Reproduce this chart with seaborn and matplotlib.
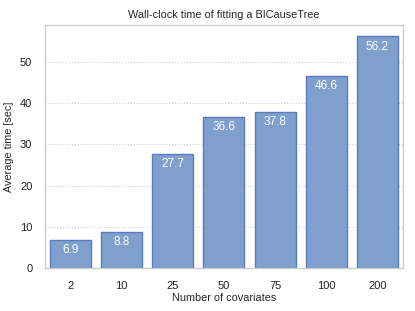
import matplotlib
matplotlib.use("Agg")
import matplotlib.pyplot as plt
import seaborn as sns
import pandas as pd

covariates = ["2", "10", "25", "50", "75", "100", "200"]
avg_time = [6.9, 8.8, 27.7, 36.6, 37.8, 46.6, 56.2]

sns.set_theme(style="whitegrid")
plt.rcParams['font.family'] = ['Liberation Sans', 'DejaVu Sans']

df = pd.DataFrame({"covariates": covariates, "time": avg_time})

fig = plt.figure(figsize=(4.15, 3.11), dpi=100)
ax = fig.add_axes([0.108, 0.138, 0.863, 0.782])

sns.barplot(data=df, x="covariates", y="time", ax=ax, color="#7f9fcc",
            saturation=1, width=0.8, edgecolor="#5a7cbf", linewidth=1)

# value labels just inside the top of each bar
for i, v in enumerate(avg_time):
    ax.text(i, v - 1.0, f"{v}", ha="center", va="top", color="white", fontsize=8.5)

ax.set_ylim(0, 59)
ax.set_xlim(-0.5, 6.5)
ax.set_title("Wall-clock time of fitting a BICauseTree", fontsize=7.8, pad=5)
ax.set_xlabel("Number of covariates", fontsize=7.8, labelpad=2)
ax.set_ylabel("Average time [sec]", fontsize=7.8, labelpad=4)
ax.tick_params(axis="both", labelsize=8, pad=3, labelcolor="#222222")
ax.grid(axis="x", visible=False)
ax.grid(axis="y", linestyle=":", color="#cccccc", linewidth=0.8)
ax.set_axisbelow(True)
for s in ax.spines.values():
    s.set_color("#cccccc")
    s.set_linewidth(1)

fig.savefig("out.png", dpi=100)
